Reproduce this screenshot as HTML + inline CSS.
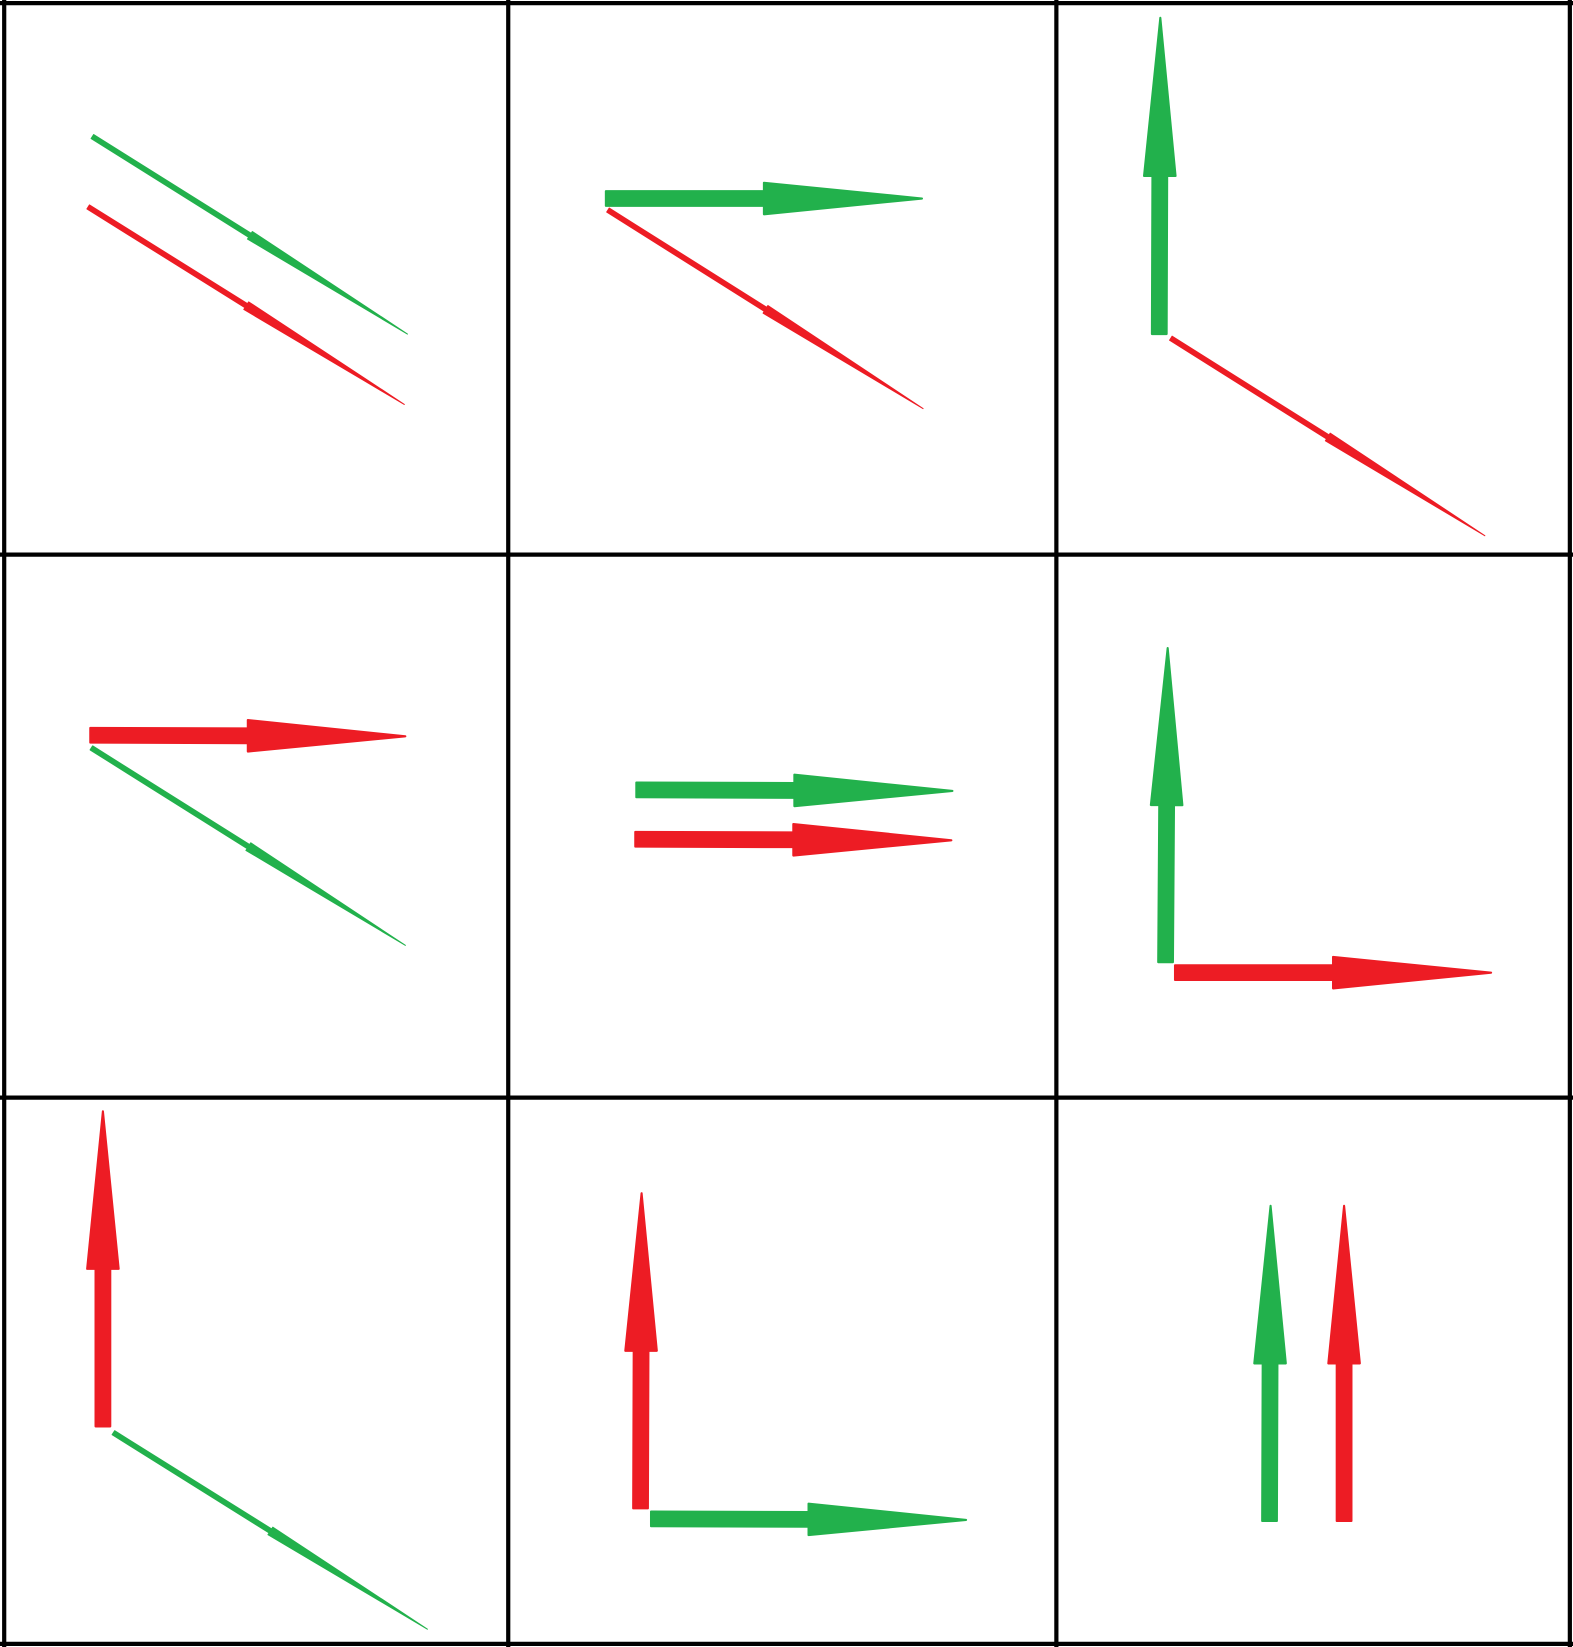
<!DOCTYPE html>
<html><head><meta charset="utf-8"><style>
html,body{margin:0;padding:0;background:#fff;}
svg{display:block;}
</style></head><body>
<svg id="chart" width="1573" height="1647" viewBox="0 0 1498 1568" preserveAspectRatio="none" xmlns="http://www.w3.org/2000/svg">
<rect x="0" y="0" width="1498" height="1568" fill="#fff"/>
<g id="grid" stroke="#000" stroke-width="4">
<line x1="0" y1="3" x2="1498" y2="3"/>
<line x1="0" y1="528" x2="1498" y2="528"/>
<line x1="0" y1="1045" x2="1498" y2="1045"/>
<line x1="0" y1="1565" x2="1498" y2="1565"/>
<line x1="4" y1="0" x2="4" y2="1568"/>
<line x1="484" y1="0" x2="484" y2="1568"/>
<line x1="1006" y1="0" x2="1006" y2="1568"/>
<line x1="1495" y1="0" x2="1495" y2="1568"/>
</g>
<g id="arrows"></g>
</svg>
<script>
// arrow data: start x, start y, tip x, tip y, color
const arrowColors = ['green','red','green','red','green','red','red','green','green','red','green','red','red','green','red','green','green','red'];
const startX = [88,84,577,579,1104,1115,86,87,606,605,1110,1119,98,108,610,620,1209,1280];
const startY = [130,197,189,200,318,322,700,712,752,799,916,926,1358,1364,1436,1446,1448,1448];
const tipX = [388,385,878,879,1105,1414,386,386,907,906,1112,1420,98,407,611,920,1210,1280];
const tipY = [318,385,189,389,17,510,701,900,753,800,617,926,1058,1551,1136,1447,1148,1148];

const palette = {green:'#22b14c', red:'#ed1c24'};
const g = document.getElementById('arrows');
const NS = 'http://www.w3.org/2000/svg';
for (let i = 0; i < startX.length; i++) {
  const x0 = startX[i], y0 = startY[i], x1 = tipX[i], y1 = tipY[i];
  const dx = x1 - x0, dy = y1 - y0, L = Math.hypot(dx, dy);
  const ux = dx / L, uy = dy / L, px = -uy, py = ux;
  const diag = Math.abs(dx) > 20 && Math.abs(dy) > 20;
  const sw = diag ? 4.5 : 14, hw = diag ? 8.5 : 30;
  const hx = x0 + dx * 0.5, hy = y0 + dy * 0.5;
  const pts = [
    [x0 + px*sw/2, y0 + py*sw/2],
    [hx + px*sw/2, hy + py*sw/2],
    [hx + px*hw/2, hy + py*hw/2],
    [x1, y1],
    [hx - px*hw/2, hy - py*hw/2],
    [hx - px*sw/2, hy - py*sw/2],
    [x0 - px*sw/2, y0 - py*sw/2]
  ];
  const p = document.createElementNS(NS, 'polygon');
  p.setAttribute('points', pts.map(q => q[0].toFixed(1) + ',' + q[1].toFixed(1)).join(' '));
  p.setAttribute('fill', palette[arrowColors[i]]);
  p.setAttribute('stroke', palette[arrowColors[i]]);
  p.setAttribute('stroke-width', diag ? '1' : '2');
  p.setAttribute('stroke-linejoin', 'round');
  
  
  g.appendChild(p);
}
</script>
</body></html>
